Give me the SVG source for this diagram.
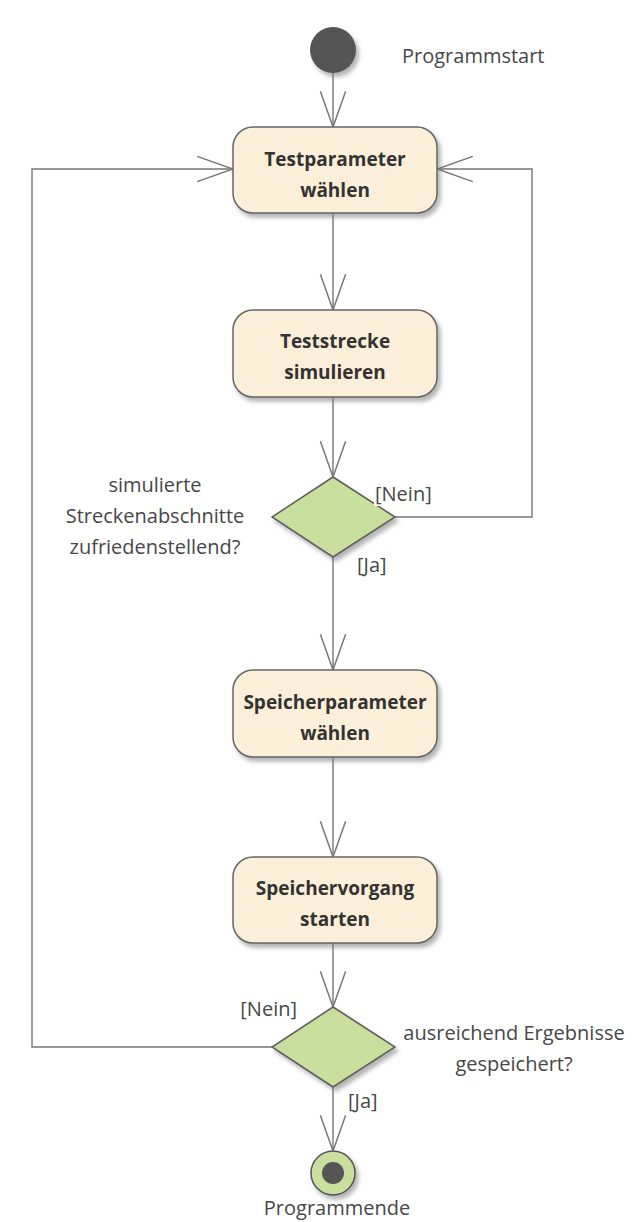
<svg xmlns="http://www.w3.org/2000/svg" width="633" height="1222" viewBox="0 0 633 1222">
<defs>
<style>
.node rect{fill:#fcefda;stroke:#666;stroke-width:1.5}
.dec polygon{fill:#c9df9d;stroke:#5f5f5f;stroke-width:1.5}
.nt{font-family:"Open Sans","Liberation Sans",sans-serif;font-weight:bold;font-size:19px;fill:#333;text-anchor:middle}
.lt{font-family:"Open Sans","Liberation Sans",sans-serif;font-size:20px;fill:#474747}
.conn path{fill:none;stroke:#777;stroke-width:1.4}
</style>
<filter id="sh" x="-20%" y="-20%" width="150%" height="150%">
<feDropShadow dx="3" dy="4" stdDeviation="2" flood-color="#777" flood-opacity="0.55"/>
</filter>
<marker id="arr" markerUnits="userSpaceOnUse" markerWidth="40" markerHeight="30" viewBox="-36 -14 38 28" refX="0" refY="0" orient="auto">
<path d="M-34,-12 L0,0 L-34,12" fill="none" stroke="#777" stroke-width="1.4"/>
</marker>
</defs>
<rect width="633" height="1222" fill="#fff"/>

<g id="connectors" class="conn">
<path d="M333,73 V127" marker-end="url(#arr)"/>
<path d="M333,213 V310" marker-end="url(#arr)"/>
<path d="M333,397 V477" marker-end="url(#arr)"/>
<path d="M333,557 V670" marker-end="url(#arr)"/>
<path d="M395,517 H532 V169 H437" marker-end="url(#arr)"/>
<path d="M333,757 V857" marker-end="url(#arr)"/>
<path d="M333,943 V1007" marker-end="url(#arr)"/>
<path d="M272,1047 H32 V169 H233" marker-end="url(#arr)"/>
<path d="M333,1087 V1151" marker-end="url(#arr)"/>
</g>

<g id="start">
<circle cx="333" cy="50" r="23" fill="#555" filter="url(#sh)"/>
<text class="lt" x="402" y="63">Programmstart</text>
</g>

<g id="n1" class="node">
<rect x="233" y="127" width="204" height="86" rx="20" filter="url(#sh)"/>
<text class="nt" x="335" y="166">Testparameter</text>
<text class="nt" x="335" y="197">wählen</text>
</g>

<g id="n2" class="node">
<rect x="233" y="310" width="204" height="87" rx="20" filter="url(#sh)"/>
<text class="nt" x="335" y="348">Teststrecke</text>
<text class="nt" x="335" y="379">simulieren</text>
</g>

<g id="d1" class="dec">
<polygon points="333,477 395,517 333,557 272,517" filter="url(#sh)"/>
<text class="lt" x="155" y="492" text-anchor="middle">simulierte</text>
<text class="lt" x="155" y="523" text-anchor="middle">Streckenabschnitte</text>
<text class="lt" x="155" y="554" text-anchor="middle">zufriedenstellend?</text>
<rect x="374" y="484" width="60" height="22" fill="#fff"/>
<text class="lt" x="375" y="501">[Nein]</text>
<text class="lt" x="357" y="572">[Ja]</text>
</g>

<g id="n3" class="node">
<rect x="233" y="670" width="204" height="87" rx="20" filter="url(#sh)"/>
<text class="nt" x="335" y="709">Speicherparameter</text>
<text class="nt" x="335" y="740">wählen</text>
</g>

<g id="n4" class="node">
<rect x="233" y="857" width="204" height="86" rx="20" filter="url(#sh)"/>
<text class="nt" x="335" y="895">Speichervorgang</text>
<text class="nt" x="335" y="926">starten</text>
</g>

<g id="d2" class="dec">
<polygon points="333,1007 395,1047 333,1087 272,1047" filter="url(#sh)"/>
<text class="lt" x="297" y="1016" text-anchor="end">[Nein]</text>
<text class="lt" x="514" y="1040" text-anchor="middle">ausreichend Ergebnisse</text>
<text class="lt" x="514" y="1071" text-anchor="middle">gespeichert?</text>
<text class="lt" x="348" y="1108">[Ja]</text>
</g>

<g id="end">
<circle cx="333" cy="1173" r="22" fill="#c9df9d" stroke="#555" stroke-width="1.5" filter="url(#sh)"/>
<circle cx="333" cy="1173" r="11" fill="#555"/>
<text class="lt" x="337" y="1215" text-anchor="middle">Programmende</text>
</g>
</svg>
